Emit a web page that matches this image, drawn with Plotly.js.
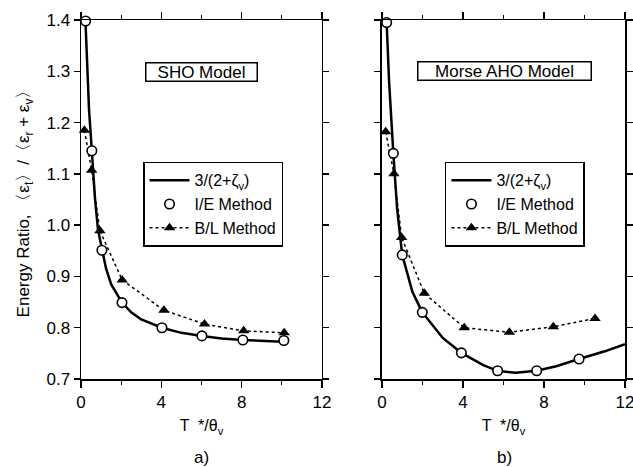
<!DOCTYPE html>
<html>
<head>
<meta charset="utf-8">
<script src="https://cdn.plot.ly/plotly-3.0.1.min.js"></script>
<style>html,body{margin:0;padding:0;background:#fff;}#chart{width:633px;height:467px;}</style>
</head>
<body>
<div id="chart"></div>
<script>
// Panel a) SHO model
var curveAx = [0.22, 0.3, 0.4, 0.54, 0.7, 0.85, 1.04, 1.25, 1.5, 2.04, 2.5, 3, 4.03, 5, 6.02, 7, 8.06, 9, 10.3];
var curveAy = [1.40, 1.32, 1.225, 1.145, 1.05, 0.99, 0.951, 0.915, 0.885, 0.849, 0.83, 0.816, 0.800, 0.790, 0.784, 0.779, 0.776, 0.774, 0.772];
var ieAx = [0.23, 0.54, 1.04, 2.04, 4.03, 6.02, 8.06, 10.1];
var ieAy = [1.398, 1.145, 0.951, 0.849, 0.800, 0.784, 0.776, 0.775];
var blAx = [0.17, 0.53, 0.94, 2.05, 4.13, 6.15, 8.10, 10.12];
var blAy = [1.185, 1.107, 0.989, 0.893, 0.834, 0.807, 0.794, 0.790];
// Panel b) Morse AHO model
var curveBx = [0.23, 0.35, 0.56, 0.75, 1.0, 1.5, 1.99, 3, 3.92, 5, 5.71, 6.6, 7.64, 8.6, 9.73, 11, 12];
var curveBy = [1.395, 1.28, 1.14, 1.03, 0.942, 0.87, 0.83, 0.78, 0.751, 0.727, 0.716, 0.712, 0.716, 0.725, 0.739, 0.754, 0.768];
var ieBx = [0.23, 0.56, 1.0, 1.99, 3.92, 5.71, 7.64, 9.73];
var ieBy = [1.395, 1.14, 0.942, 0.830, 0.751, 0.716, 0.716, 0.739];
var blBx = [0.18, 0.59, 0.97, 2.09, 4.06, 6.29, 8.46, 10.52];
var blBy = [1.182, 1.10, 0.976, 0.867, 0.80, 0.791, 0.802, 0.818];

var names = ['3/(2+ζ<sub>v</sub>)', 'I/E Method', 'B/L Method'];
var panelTitles = ['SHO Model', 'Morse AHO Model'];
var panelLabels = ['a)', 'b)'];
var xTitle = 'T  */θ<sub>v</sub>';
var yTitle = 'Energy Ratio, 〈ε<sub>t</sub>〉/〈ε<sub>r</sub> + ε<sub>v</sub>〉';

var FONT = 'Liberation Sans, Arial, Helvetica, sans-serif';

function panel(cx, cy, ix, iy, bx, by, xa, ya, leg) {
  return [
    {x: cx, y: cy, xaxis: xa, yaxis: ya, mode: 'lines', name: names[0], legend: leg, legendrank: 1,
     line: {color: '#000', width: 2.5}, cliponaxis: false},
    {x: bx, y: by, xaxis: xa, yaxis: ya, mode: 'lines+markers', name: names[2], legend: leg, legendrank: 3,
     line: {color: '#000', width: 1.5, dash: '3px,3px'},
     marker: {symbol: 'triangle-up', size: 10, color: '#000'}, cliponaxis: false},
    {x: ix, y: iy, xaxis: xa, yaxis: ya, mode: 'markers', name: names[1], legend: leg, legendrank: 2,
     marker: {symbol: 'circle', size: 9.5, color: '#fff', line: {color: '#000', width: 1.6}}, cliponaxis: false}
  ];
}

var data = [].concat(
  panel(curveAx, curveAy, ieAx, ieAy, blAx, blAy, 'x', 'y', 'legend'),
  panel(curveBx, curveBy, ieBx, ieBy, blBx, blBy, 'x2', 'y2', 'legend2')
);

function xaxis(domain, anchor) {
  return {
    domain: domain, anchor: anchor, range: [0, 12], dtick: 4, tick0: 0,
    ticks: 'outside', ticklen: 7, tickwidth: 1.5, tickcolor: '#000',
    minor: {dtick: 2, ticks: 'outside', ticklen: 4, tickwidth: 1.2, tickcolor: '#000', showgrid: false},
    showline: true, linecolor: '#000', linewidth: 1.5, mirror: 'allticks',
    showgrid: false, zeroline: false, ticklabeloverflow: 'allow',
    tickfont: {family: FONT, size: 17, color: '#000'},
    title: {text: xTitle, font: {family: FONT, size: 16, color: '#000'}, standoff: 9}
  };
}
function yaxis(anchor, labels) {
  var a = {
    domain: [0, 1], anchor: anchor, range: [0.7, 1.4], dtick: 0.1, tick0: 0.7, tickformat: '.1f',
    ticks: 'outside', ticklen: 6, tickwidth: 1.5, tickcolor: '#000',
    showline: true, linecolor: '#000', linewidth: 1.5, mirror: 'allticks',
    showgrid: false, zeroline: false, showticklabels: labels,
    tickfont: {family: FONT, size: 17, color: '#000'}
  };
  if (labels) a.title = {text: yTitle, font: {family: FONT, size: 17, color: '#000'}, standoff: 12};
  return a;
}

var legendStyle = function (x) {
  return {
    x: x, y: 0.605, xref: 'paper', yref: 'paper', xanchor: 'left', yanchor: 'top',
    bgcolor: '#fff', bordercolor: '#000', borderwidth: 1.5,
    font: {family: FONT, size: 16, color: '#000'}, itemwidth: 40, tracegroupgap: 0,
    traceorder: 'normal'
  };
};

var layout = {
  width: 633, height: 467,
  margin: {l: 81, r: 8, t: 20, b: 88},
  paper_bgcolor: '#fff', plot_bgcolor: '#fff',
  font: {family: FONT, color: '#000'},
  showlegend: true,
  xaxis: xaxis([0, 0.443], 'y'),
  yaxis: yaxis('x', true),
  xaxis2: xaxis([0.5533, 1], 'y2'),
  yaxis2: yaxis('x2', false),
  legend: legendStyle(0.114),
  legend2: legendStyle(0.669),
  annotations: [
    {text: panelTitles[0], xref: 'paper', yref: 'paper', x: 0.2224, y: 0.855, xanchor: 'center', yanchor: 'middle',
     width: 108, height: 15, showarrow: false, font: {family: FONT, size: 17, color: '#000'},
     bordercolor: '#000', borderwidth: 1.5, borderpad: 1, bgcolor: '#fff'},
    {text: panelTitles[1], xref: 'paper', yref: 'paper', x: 0.7776, y: 0.858, xanchor: 'center', yanchor: 'middle',
     width: 170, height: 15, showarrow: false, font: {family: FONT, size: 17, color: '#000'},
     bordercolor: '#000', borderwidth: 1.5, borderpad: 1, bgcolor: '#fff'},
    {text: panelLabels[0], xref: 'paper', yref: 'paper', x: 0.2224, y: -0.22, xanchor: 'center', yanchor: 'middle',
     showarrow: false, font: {family: FONT, size: 17, color: '#000'}},
    {text: panelLabels[1], xref: 'paper', yref: 'paper', x: 0.7776, y: -0.22, xanchor: 'center', yanchor: 'middle',
     showarrow: false, font: {family: FONT, size: 17, color: '#000'}}
  ]
};

Plotly.newPlot('chart', data, layout, {displayModeBar: false, staticPlot: true});
</script>
</body>
</html>
